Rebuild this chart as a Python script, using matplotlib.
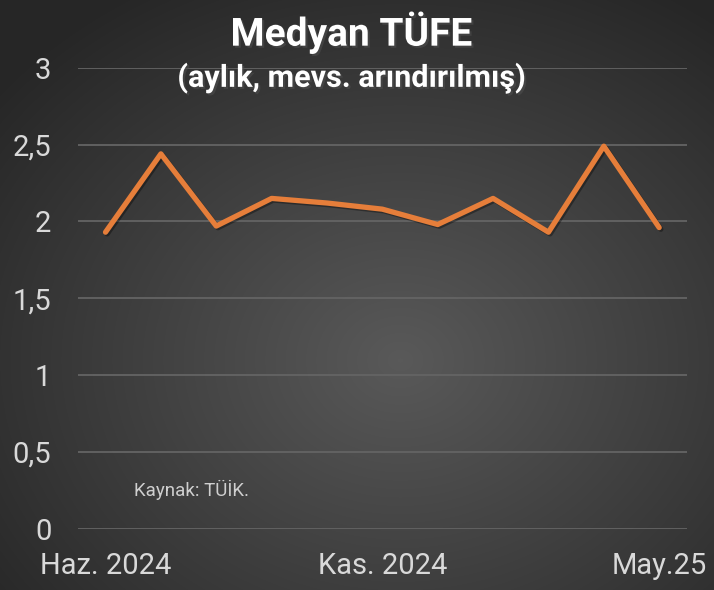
import numpy as np
import matplotlib
matplotlib.use("Agg")
import matplotlib.pyplot as plt
import matplotlib.patheffects as pe
from matplotlib.ticker import FuncFormatter

# Medyan TÜFE, aylık mevsimsellikten arındırılmış (%)
values = [1.93, 2.44, 1.97, 2.15, 2.12, 2.08, 1.98, 2.15, 1.93, 2.49, 1.96]
tick_pos = [0, 5, 10]
tick_labels = ["Haz. 2024", "Kas. 2024", "May.25"]
y_ticks = [0, 0.5, 1, 1.5, 2, 2.5, 3]

plt.rcParams['font.family'] = ['Roboto', 'DejaVu Sans']

fig = plt.figure(figsize=(7.14, 5.9), dpi=100)

# radial gradient background
bg = fig.add_axes([0, 0, 1, 1], zorder=-10)
yy, xx = np.mgrid[0:590, 0:714]
r = np.sqrt(((xx - 400) / 520.0) ** 2 + ((yy - 360) / 430.0) ** 2)
shade = np.clip(0.35 - 0.2 * r, 0.15, 0.4)
bg.imshow(np.dstack([shade] * 3), aspect='auto', extent=[0, 1, 0, 1])
bg.axis('off')

ax = fig.add_axes([0.109, 0.104, 0.853, 0.781])
ax.patch.set_alpha(0)
x = np.arange(len(values))
ax.plot(x, values, color='#E67E3A', lw=3.8, solid_capstyle='round', zorder=3,
        path_effects=[pe.SimpleLineShadow(offset=(1.2, -1.2), alpha=0.35), pe.Normal()])

ax.set_xlim(-0.5, len(values) - 0.5)
ax.set_ylim(0, 3)
ax.set_yticks(y_ticks)
ax.yaxis.set_major_formatter(FuncFormatter(lambda v, p: ('%g' % v).replace('.', ',')))
ax.set_xticks(tick_pos)
ax.set_xticklabels(tick_labels)
ax.grid(axis='y', color='#646464', lw=1.3)
ax.set_axisbelow(True)
for s in ax.spines.values():
    s.set_visible(False)
ax.tick_params(length=0, colors='#d9d9d9', labelsize=21)
ax.tick_params(axis='y', pad=19)
ax.tick_params(axis='x', pad=17)

shadow = [pe.withSimplePatchShadow(offset=(1.5, -1.5), alpha=0.6)]
fig.text(0.492, 0.945, "Medyan TÜFE", ha='center', va='center', color='white',
         fontsize=28, fontweight='bold', path_effects=shadow)
fig.text(0.492, 0.868, "(aylık, mevs. arındırılmış)", ha='center', va='center', color='white',
         fontsize=22, fontweight='bold', path_effects=shadow)
fig.text(0.187, 0.17, "Kaynak: TÜİK.", ha='left', va='center', color='#cfcfcf', fontsize=13.5)

fig.savefig("out.png", dpi=100)
